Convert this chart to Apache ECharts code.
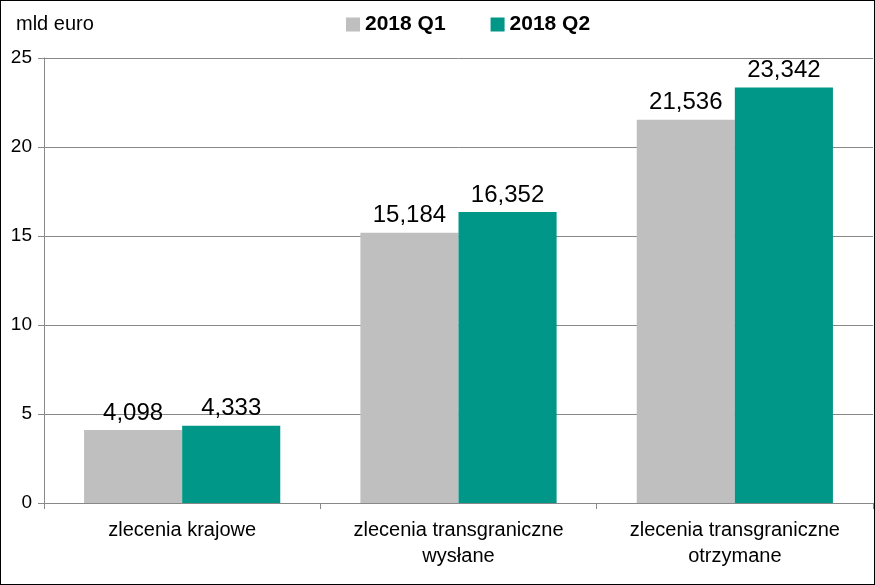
<!DOCTYPE html>
<html><head><meta charset="utf-8">
<script src="https://cdn.jsdelivr.net/npm/echarts@6/dist/echarts.min.js"></script>
<style>html,body{margin:0;padding:0;background:#fff}#c{width:875px;height:585px;box-sizing:border-box;border:1px solid #000}</style>
</head><body><div id="c"></div>
<script>
const categories = ['zlecenia krajowe', 'zlecenia transgraniczne\nwysłane', 'zlecenia transgraniczne\notrzymane'];
const seriesNames = ['2018 Q1', '2018 Q2'];
const q1 = [4.098, 15.184, 21.536];
const q2 = [4.333, 16.352, 23.342];
const yTicks = [0, 5, 10, 15, 20, 25];
const colors = ['#BFBFBF', '#009688'];
const chart = echarts.init(document.getElementById('c'));
const fmt = p => p.value.toFixed(3).replace('.', ',');
chart.setOption({
  animation: false,
  textStyle: {fontFamily: 'Liberation Sans, Arial, sans-serif'},
  title: {text: 'mld euro', left: 10, top: 8, textStyle: {fontSize: 20, fontWeight: 'normal', color: '#000'}},
  legend: {top: 8, left: 340, itemGap: 45, itemWidth: 14, itemHeight: 14, icon: 'rect',
    textStyle: {fontSize: 21, fontWeight: 'bold', color: '#000'}, data: seriesNames},
  grid: {left: 43, right: 1, top: 57, bottom: 81},
  xAxis: {type: 'category', data: categories,
    axisLine: {lineStyle: {color: '#888'}},
    axisTick: {show: true, length: 6, lineStyle: {color: '#888'}},
    axisLabel: {fontSize: 20, color: '#000', margin: 14, lineHeight: 26}},
  yAxis: {type: 'value', min: yTicks[0], max: yTicks[yTicks.length - 1], interval: 5,
    axisLine: {show: true, lineStyle: {color: '#888'}},
    axisTick: {show: true, length: 6, lineStyle: {color: '#888'}},
    axisLabel: {fontSize: 19, color: '#000', margin: 12},
    splitLine: {lineStyle: {color: '#888'}}},
  series: [
    {name: seriesNames[0], type: 'bar', data: q1, barGap: '0%', barCategoryGap: '29%',
     itemStyle: {color: colors[0]},
     label: {show: true, position: 'top', fontSize: 24, color: '#000', formatter: fmt}},
    {name: seriesNames[1], type: 'bar', data: q2,
     itemStyle: {color: colors[1]},
     label: {show: true, position: 'top', fontSize: 24, color: '#000', formatter: fmt}}
  ]
});
</script></body></html>
